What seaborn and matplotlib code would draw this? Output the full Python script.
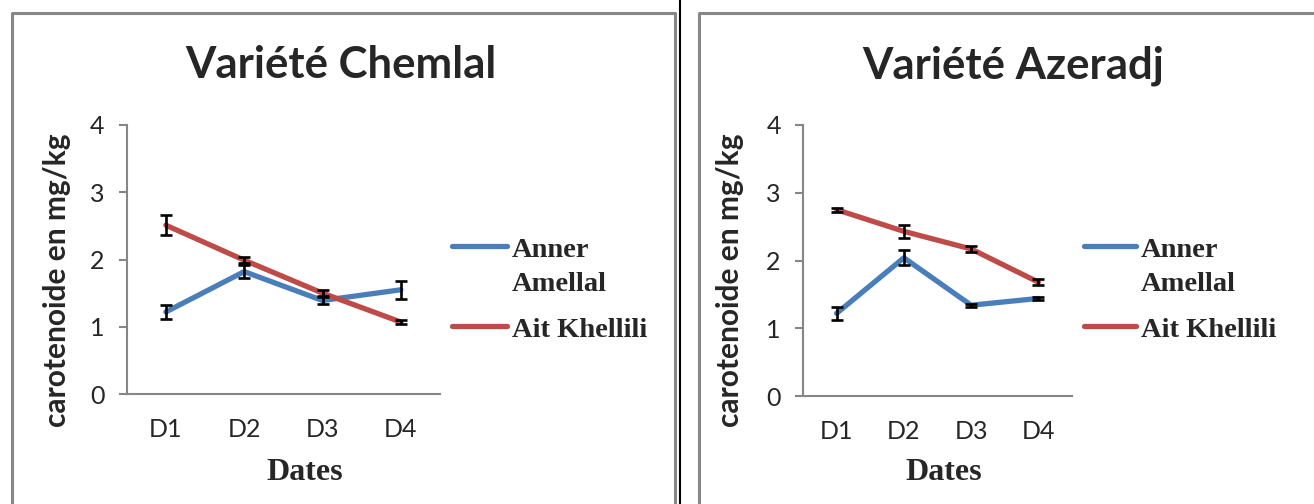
import numpy as np
import pandas as pd
import matplotlib
matplotlib.use("Agg")
import matplotlib.pyplot as plt
from matplotlib.lines import Line2D
import seaborn as sns

dates = ["D1", "D2", "D3", "D4"]
series_names = ["Anner Amellal", "Ait Khellili"]

chemlal_anner = [1.22, 1.82, 1.39, 1.55]
chemlal_anner_err = [0.10, 0.10, 0.05, 0.13]
chemlal_ait = [2.51, 1.99, 1.50, 1.07]
chemlal_ait_err = [0.15, 0.04, 0.05, 0.03]

azeradj_anner = [1.22, 2.04, 1.34, 1.44]
azeradj_anner_err = [0.10, 0.11, 0.02, 0.02]
azeradj_ait = [2.75, 2.43, 2.17, 1.68]
azeradj_ait_err = [0.03, 0.10, 0.05, 0.04]

titles = ["Variété Chemlal", "Variété Azeradj"]
ylabel = "carotenoide en mg/kg"
xlabel = "Dates"
yticks = [0, 1, 2, 3, 4]

BLUE = "#4A7EBB"
RED = "#BE4B48"
GREY = "#868686"

sns.set_style("white")
plt.rcParams["font.family"] = ["Lato", "DejaVu Sans"]

W, H = 1314, 504
fig = plt.figure(figsize=(W / 100, H / 100), dpi=100)

def fx(x):
    return x / W

def fy(y):
    return 1 - y / H

panels = [
    dict(ax=(126.7, 440, 125, 394), data=(chemlal_anner, chemlal_anner_err, chemlal_ait, chemlal_ait_err),
         title_x=341, ylab_x=57, ylab_y=280, dates_x=305, leg_line=(452, 507), leg_text=512),
    dict(ax=(803, 1072, 125, 396), data=(azeradj_anner, azeradj_anner_err, azeradj_ait, azeradj_ait_err),
         title_x=1013, ylab_x=730, ylab_y=280, dates_x=944, leg_line=(1084, 1136), leg_text=1141),
]

SERIF = ["Liberation Serif", "DejaVu Serif"]
SANS = ["Lato", "DejaVu Sans"]

for i, p in enumerate(panels):
    x0, x1, y0, y1 = p["ax"]
    ax = fig.add_axes([fx(x0), fy(y1), (x1 - x0) / W, (y1 - y0) / H])
    a, ae, k, ke = p["data"]
    df = pd.DataFrame({
        "date": dates * 2,
        "value": list(a) + list(k),
        "err": list(ae) + list(ke),
        "variety": [series_names[0]] * 4 + [series_names[1]] * 4,
    })
    sns.lineplot(data=df, x="date", y="value", hue="variety", palette=[BLUE, RED],
                 linewidth=3.8, ax=ax, legend=False, sort=False, zorder=3)
    for name in series_names:
        sub = df[df["variety"] == name]
        ax.errorbar(np.arange(4), sub["value"], yerr=sub["err"], fmt="none",
                    ecolor="black", elinewidth=1.9, capsize=4.5, capthick=1.9, zorder=4)
    ax.set_xlim(-0.5, 3.5)
    ax.set_ylim(0, 4)
    ax.set_yticks(yticks)
    ax.set_xticks(range(4))
    ax.set_xticklabels(dates)
    ax.set_xlabel("")
    ax.set_ylabel("")
    for s in ["top", "right"]:
        ax.spines[s].set_visible(False)
    for s in ["left", "bottom"]:
        ax.spines[s].set_color(GREY)
        ax.spines[s].set_linewidth(1.5)
    ax.tick_params(axis="y", which="both", left=True, length=6, width=1.5, color=GREY,
                   labelsize=18, pad=10, direction="out")
    ax.tick_params(axis="x", which="both", bottom=False, length=0, labelsize=18, pad=17)
    ax.patch.set_alpha(0)

    fig.text(fx(p["title_x"]), fy(78), titles[i], ha="center", va="baseline",
             fontsize=31.5, fontweight="bold", family=SANS)
    fig.text(fx(p["ylab_x"]), fy(p["ylab_y"]), ylabel, ha="center", va="center", rotation=90,
             fontsize=21.5, fontweight="bold", family=SANS)
    fig.text(fx(p["dates_x"]), fy(480), xlabel, ha="center", va="baseline",
             fontsize=23, fontweight="bold", family=SERIF)

    lx0, lx1 = p["leg_line"]
    fig.add_artist(Line2D([fx(lx0), fx(lx1)], [fy(246), fy(246)], color=BLUE, lw=3.8,
                          solid_capstyle="round", transform=fig.transFigure))
    fig.add_artist(Line2D([fx(lx0), fx(lx1)], [fy(326), fy(326)], color=RED, lw=3.8,
                          solid_capstyle="round", transform=fig.transFigure))
    fig.text(fx(p["leg_text"]), fy(257), "Anner", ha="left", va="baseline", fontsize=20.5,
             fontweight="bold", family=SERIF)
    fig.text(fx(p["leg_text"]), fy(291), "Amellal", ha="left", va="baseline", fontsize=20.5,
             fontweight="bold", family=SERIF)
    fig.text(fx(p["leg_text"]), fy(337), "Ait Khellili", ha="left", va="baseline", fontsize=20.5,
             fontweight="bold", family=SERIF)

# panel borders
fig.add_artist(Line2D([fx(12), fx(12), fx(675), fx(675)], [fy(510), fy(13), fy(13), fy(510)],
                      color="#878787", lw=2.2, transform=fig.transFigure))
fig.add_artist(Line2D([fx(699), fx(699), fx(1320)], [fy(510), fy(13), fy(13)],
                      color="#878787", lw=2.2, transform=fig.transFigure))
fig.add_artist(Line2D([fx(680), fx(680)], [fy(-5), fy(510)], color="black", lw=1.5,
                      transform=fig.transFigure))

fig.savefig("out.png", dpi=100)
